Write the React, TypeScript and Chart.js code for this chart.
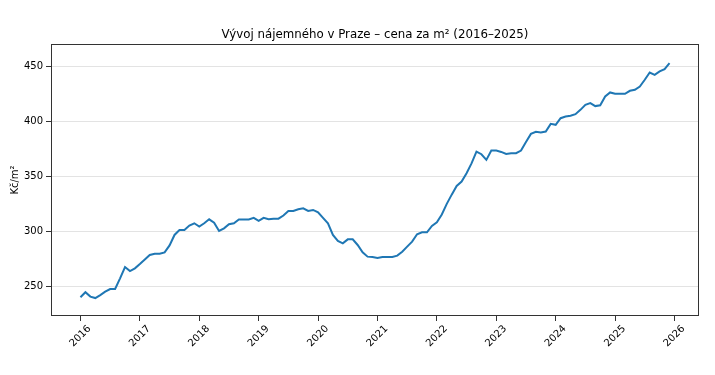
import React, { useEffect, useRef } from "react";
import { Chart, registerables } from "chart.js";

Chart.register(...registerables);

const startYear = 2016;
const rent2016 = [240.5, 245, 241, 239.7, 242.4, 245.5, 247.9, 247.9, 257.6, 267.9, 264.2, 266.7];
const rent2017 = [270.6, 274.8, 278.8, 280, 280, 281.2, 287.5, 297, 301.5, 301.5, 305.5, 307.6];
const rent2018 = [304.6, 307.6, 311.2, 308.2, 300.6, 303, 306.7, 307.6, 311, 311, 311, 312.5];
const rent2019 = [309.8, 312.5, 311.2, 311.8, 311.8, 314.6, 318.8, 318.8, 320.3, 321.2, 318.8, 319.7];
const rent2020 = [317.6, 312.5, 307.6, 297, 291.5, 289.4, 293, 293, 287.9, 281.2, 277.3, 277];
const rent2021 = [276.1, 277, 277, 277, 278.2, 281.8, 286.4, 290.9, 297.6, 299.4, 299.4, 305.2];
const rent2022 = [308.5, 315.6, 325.2, 333.6, 341.5, 345.5, 353, 362, 372.7, 370.3, 365.2, 373.6];
const rent2023 = [373.6, 372.4, 370.6, 371.2, 371.2, 373.6, 381.5, 388.8, 390.7, 390, 390.9, 397.9];
const rent2024 = [397, 403, 404.5, 405.2, 406.7, 410.6, 415.2, 416.7, 414, 414.7, 422.7, 426.4];
const rent2025 = [425.2, 425.2, 425.2, 427.9, 428.8, 431.8, 437.9, 444.5, 442.4, 445.5, 447.6, 453];

const yearTicks = [2016, 2017, 2018, 2019, 2020, 2021, 2022, 2023, 2024, 2025, 2026];
const valueTicks = [250, 300, 350, 400, 450];

const titleText = "Vývoj nájemného v Praze – cena za m² (2016–2025)";
const yTitle = "Kč/m²";

const FONT = "'DejaVu Sans', sans-serif";

const frame = {
  id: "frame",
  afterDraw(chart: any) {
    const { ctx, chartArea } = chart;
    ctx.save();
    ctx.strokeStyle = "#333";
    ctx.lineWidth = 1;
    ctx.strokeRect(
      Math.round(chartArea.left) + 0.5,
      Math.round(chartArea.top) + 0.5,
      Math.round(chartArea.right - chartArea.left) - 1,
      Math.round(chartArea.bottom - chartArea.top) - 1
    );
    // title centred over the axes box
    ctx.fillStyle = "#000";
    ctx.font = "11.8px " + FONT;
    ctx.textAlign = "center";
    ctx.textBaseline = "middle";
    ctx.fillText(titleText, (chartArea.left + chartArea.right) / 2, 35);
    ctx.restore();
  },
};

export default function App() {
  const ref = useRef<HTMLCanvasElement | null>(null);
  useEffect(() => {
    const years = [rent2016, rent2017, rent2018, rent2019, rent2020, rent2021, rent2022, rent2023, rent2024, rent2025];
    const points: { x: number; y: number }[] = [];
    years.forEach((arr, yi) => {
      arr.forEach((v, mi) => {
        points.push({ x: startYear + yi + mi / 12, y: v });
      });
    });
    const chart = new Chart(ref.current as HTMLCanvasElement, {
      type: "line",
      data: {
        datasets: [
          {
            data: points,
            borderColor: "#1f77b4",
            borderWidth: 2,
            pointRadius: 0,
            tension: 0,
            fill: false,
          },
        ],
      },
      options: {
        animation: false,
        responsive: false,
        maintainAspectRatio: false,
        layout: { padding: { left: 0, right: 16, top: 44, bottom: 0 } },
        plugins: {
          legend: { display: false },
          tooltip: { enabled: false },
          title: { display: false },
        },
        scales: {
          x: {
            type: "linear",
            min: 2015.504,
            max: 2026.413,
            afterBuildTicks: (scale: any) => {
              scale.ticks = yearTicks.map((v) => ({ value: v }));
            },
            afterFit: (scale: any) => {
              scale.height = 59;
            },
            ticks: {
              autoSkip: false,
              minRotation: 45,
              maxRotation: 45,
              color: "#000",
              padding: 2,
              labelOffset: 9,
              font: { family: FONT, size: 10 },
              callback: (v: any) => String(v),
            },
            grid: {
              display: true,
              drawOnChartArea: false,
              drawTicks: true,
              tickLength: 5,
              tickColor: "#333",
            },
            border: { display: false },
          },
          y: {
            type: "linear",
            min: 223.4,
            max: 470.4,
            afterBuildTicks: (scale: any) => {
              scale.ticks = valueTicks.map((v) => ({ value: v }));
            },
            afterFit: (scale: any) => {
              scale.width = 51;
            },
            ticks: {
              color: "#000",
              padding: 3,
              font: { family: FONT, size: 10 },
              callback: (v: any) => String(v),
            },
            grid: {
              display: true,
              drawOnChartArea: true,
              color: "#e3e3e3",
              lineWidth: 1,
              drawTicks: true,
              tickLength: 5,
              tickColor: "#333",
            },
            border: { display: false },
            title: {
              display: true,
              text: yTitle,
              color: "#000",
              font: { family: FONT, size: 10 },
              padding: { top: 9, bottom: 0 },
            },
          },
        },
      },
      plugins: [frame],
    });
    return () => chart.destroy();
  }, []);
  return (
    <div style={{ position: "absolute", left: 0, top: 0, width: 715, height: 375, background: "#fff" }}>
      <canvas ref={ref} width={715} height={375} />
    </div>
  );
}
